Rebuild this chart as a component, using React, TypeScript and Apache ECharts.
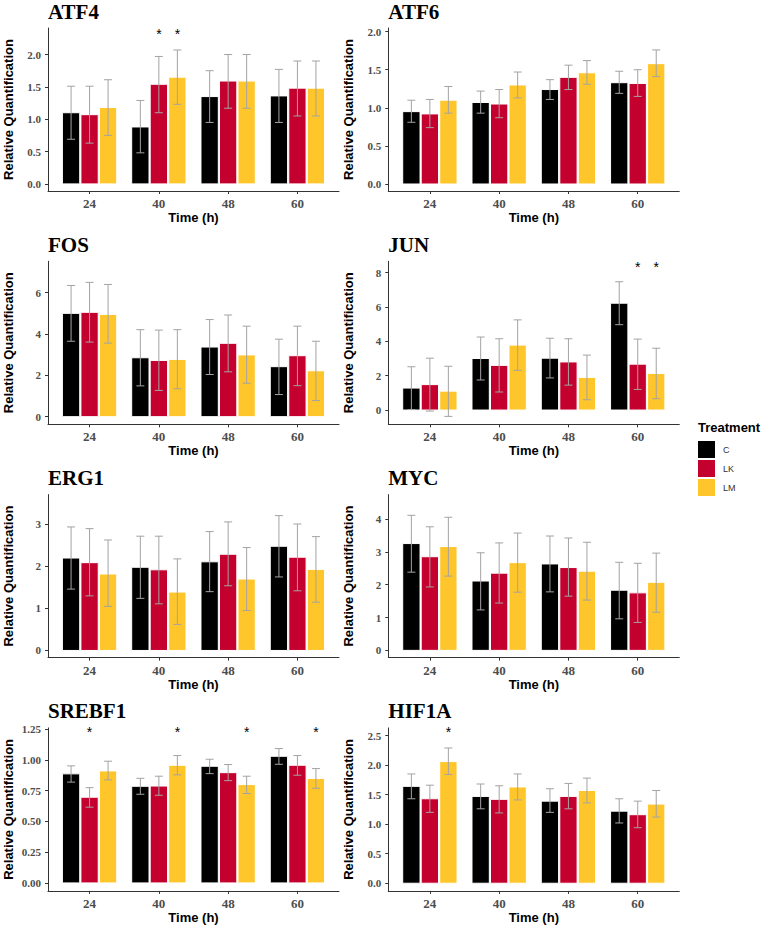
import React, { useEffect, useRef } from "react";
import * as echarts from "echarts";

const categories = ["24", "40", "48", "60"];
const treatments = ["C", "LK", "LM"];
const colors = ["#000000", "#C4002F", "#FFC62B"];

// rows: C, LK, LM ; columns: 24, 40, 48, 60
const atf4Mean = [[1.10, 0.88, 1.35, 1.36], [1.07, 1.54, 1.59, 1.48], [1.18, 1.65, 1.59, 1.48]];
const atf4Upper = [[1.51, 1.29, 1.75, 1.77], [1.51, 1.97, 2.00, 1.90], [1.61, 2.07, 2.00, 1.90]];
const atf4Lower = [[0.69, 0.48, 0.95, 0.95], [0.63, 1.10, 1.17, 1.05], [0.75, 1.23, 1.17, 1.05]];

const atf6Mean = [[0.95, 1.07, 1.24, 1.33], [0.92, 1.05, 1.40, 1.32], [1.10, 1.30, 1.46, 1.58]];
const atf6Upper = [[1.10, 1.22, 1.37, 1.48], [1.11, 1.24, 1.56, 1.50], [1.28, 1.47, 1.62, 1.76]];
const atf6Lower = [[0.81, 0.93, 1.11, 1.19], [0.74, 0.87, 1.24, 1.15], [0.93, 1.13, 1.31, 1.41]];

const fosMean = [[5.00, 2.85, 3.37, 2.42], [5.05, 2.72, 3.55, 2.95], [4.95, 2.77, 2.99, 2.22]];
const fosUpper = [[6.35, 4.21, 4.70, 3.75], [6.50, 4.19, 4.92, 4.38], [6.40, 4.21, 4.38, 3.65]];
const fosLower = [[3.65, 1.49, 2.04, 1.07], [3.61, 1.27, 2.17, 1.50], [3.56, 1.35, 1.62, 0.78]];

const junMean = [[1.28, 3.00, 3.02, 6.22], [1.48, 2.60, 2.80, 2.67], [1.10, 3.78, 1.90, 2.13]];
const junUpper = [[2.52, 4.25, 4.18, 7.47], [3.02, 4.15, 4.15, 4.13], [2.55, 5.25, 3.20, 3.60]];
const junLower = [[0.03, 1.75, 1.87, 4.97], [-0.06, 1.05, 1.45, 1.20], [-0.37, 2.31, 0.60, 0.66]];

const erg1Mean = [[2.20, 1.98, 2.11, 2.48], [2.09, 1.92, 2.29, 2.22], [1.82, 1.39, 1.70, 1.93]];
const erg1Upper = [[2.94, 2.72, 2.83, 3.21], [2.90, 2.72, 3.06, 3.01], [2.63, 2.18, 2.45, 2.71]];
const erg1Lower = [[1.46, 1.24, 1.40, 1.75], [1.30, 1.11, 1.54, 1.42], [1.05, 0.62, 0.95, 1.15]];

const mycMean = [[3.25, 2.11, 2.63, 1.83], [2.85, 2.35, 2.52, 1.75], [3.16, 2.67, 2.41, 2.07]];
const mycUpper = [[4.11, 2.97, 3.48, 2.68], [3.76, 3.27, 3.42, 2.65], [4.05, 3.57, 3.29, 2.96]];
const mycLower = [[2.38, 1.23, 1.78, 0.96], [1.93, 1.44, 1.65, 0.85], [2.26, 1.77, 1.53, 1.16]];

const srebf1Mean = [[0.887, 0.786, 0.949, 1.03], [0.697, 0.788, 0.897, 0.957], [0.911, 0.957, 0.80, 0.849]];
const srebf1Upper = [[0.952, 0.851, 1.006, 1.093], [0.775, 0.868, 0.963, 1.036], [0.99, 1.036, 0.868, 0.93]];
const srebf1Lower = [[0.82, 0.721, 0.889, 0.965], [0.616, 0.713, 0.832, 0.876], [0.838, 0.879, 0.727, 0.77]];

const hif1aMean = [[1.64, 1.47, 1.39, 1.22], [1.43, 1.42, 1.47, 1.16], [2.06, 1.63, 1.57, 1.34]];
const hif1aUpper = [[1.85, 1.68, 1.60, 1.43], [1.66, 1.65, 1.69, 1.39], [2.29, 1.85, 1.78, 1.57]];
const hif1aLower = [[1.43, 1.26, 1.20, 1.02], [1.20, 1.19, 1.26, 0.94], [1.84, 1.41, 1.36, 1.12]];

// tick labels
const atf4Ticks = [0, 0.5, 1, 1.5, 2];
const atf6Ticks = [0, 0.5, 1, 1.5, 2];
const fosTicks = [0, 2, 4, 6];
const junTicks = [0, 2, 4, 6, 8];
const erg1Ticks = [0, 1, 2, 3];
const mycTicks = [0, 1, 2, 3, 4];
const srebf1Ticks = [0, 0.25, 0.5, 0.75, 1, 1.25];
const hif1aTicks = [0, 0.5, 1, 1.5, 2, 2.5];

// significance marks: [category index, treatment index]
const atf4Stars = [[1, 1], [1, 2]];
const junStars = [[3, 1], [3, 2]];
const srebf1Stars = [[0, 1], [1, 2], [2, 2], [3, 2]];
const hif1aStars = [[0, 2]];

const genes = [
  { name: "ATF4", mean: atf4Mean, upper: atf4Upper, lower: atf4Lower, yMin: -0.11, yMax: 2.41, ticks: atf4Ticks, dec: 1, stars: atf4Stars, starY: 2.34 },
  { name: "ATF6", mean: atf6Mean, upper: atf6Upper, lower: atf6Lower, yMin: -0.092, yMax: 2.048, ticks: atf6Ticks, dec: 1, stars: [], starY: 0 },
  { name: "FOS", mean: fosMean, upper: fosUpper, lower: fosLower, yMin: -0.37, yMax: 7.52, ticks: fosTicks, dec: 0, stars: [], starY: 0 },
  { name: "JUN", mean: junMean, upper: junUpper, lower: junLower, yMin: -0.83, yMax: 8.66, ticks: junTicks, dec: 0, stars: junStars, starY: 8.39 },
  { name: "ERG1", mean: erg1Mean, upper: erg1Upper, lower: erg1Lower, yMin: -0.17, yMax: 3.71, ticks: erg1Ticks, dec: 0, stars: [], starY: 0 },
  { name: "MYC", mean: mycMean, upper: mycUpper, lower: mycLower, yMin: -0.22, yMax: 4.74, ticks: mycTicks, dec: 0, stars: [], starY: 0 },
  { name: "SREBF1", mean: srebf1Mean, upper: srebf1Upper, lower: srebf1Lower, yMin: -0.065, yMax: 1.261, ticks: srebf1Ticks, dec: 2, stars: srebf1Stars, starY: 1.237 },
  { name: "HIF1A", mean: hif1aMean, upper: hif1aUpper, lower: hif1aLower, yMin: -0.13, yMax: 2.63, ticks: hif1aTicks, dec: 1, stars: hif1aStars, starY: 2.58 },
];

const OFFSET = 0.267;
const BAR_W = 0.25;
const colLeft = [48, 388.3];
const rowTop = [28, 261.3, 494.6, 727.9];
const GRID_W = 291;
const GRID_H = 163;

function makeBarRender(t: number) {
  return (params: any, api: any) => {
    const c = api.value(0);
    const v = api.value(1);
    const lo = api.value(2);
    const hi = api.value(3);
    const xc = c + (t - 1) * OFFSET;
    const p0 = api.coord([xc, 0]);
    const p1 = api.coord([xc, v]);
    const pl = api.coord([xc, lo]);
    const ph = api.coord([xc, hi]);
    const w = api.size([BAR_W, 0])[0];
    const cap = 4;
    const eb = { stroke: "#A3A3A3", lineWidth: 1 };
    return {
      type: "group",
      children: [
        {
          type: "rect",
          shape: { x: p0[0] - w / 2, y: p1[1], width: w, height: p0[1] - p1[1] },
          style: { fill: colors[t], stroke: "#ffffff", lineWidth: 1 },
        },
        { type: "line", shape: { x1: pl[0], y1: pl[1], x2: ph[0], y2: ph[1] }, style: eb },
        { type: "line", shape: { x1: ph[0] - cap, y1: ph[1], x2: ph[0] + cap, y2: ph[1] }, style: eb },
        { type: "line", shape: { x1: pl[0] - cap, y1: pl[1], x2: pl[0] + cap, y2: pl[1] }, style: eb },
      ],
    };
  };
}

function starRender(params: any, api: any) {
  const p = api.coord([api.value(0), api.value(1)]);
  return {
    type: "text",
    x: p[0],
    y: p[1] + 1,
    style: {
      text: "*",
      fill: "#000",
      font: '14px "Liberation Sans"',
      align: "center",
      verticalAlign: "middle",
    },
  };
}

export default function App() {
  const ref = useRef<HTMLDivElement>(null);
  useEffect(() => {
    if (!ref.current) return;
    const chart = echarts.init(ref.current, null, { renderer: "svg" });
    const serif = "'Liberation Serif', 'Times New Roman', serif";
    const sans = "'Liberation Sans', Arial, sans-serif";
    const grids = genes.map((g, i) => ({
      left: colLeft[i % 2],
      top: rowTop[Math.floor(i / 2)],
      width: GRID_W,
      height: GRID_H,
    }));
    const titles = genes.map((g, i) => ({
      text: g.name,
      left: colLeft[i % 2],
      top: rowTop[Math.floor(i / 2)] - 27,
      padding: 0,
      textStyle: { fontFamily: serif, fontWeight: "bold", fontSize: 21, color: "#000" },
    }));
    const xAxes = genes.map((g, i) => ({
      gridIndex: i,
      type: "value",
      min: 0.4,
      max: 4.6,
      splitLine: { show: false },
      axisLine: { show: true, onZero: false, lineStyle: { color: "#333333", width: 1 } },
      axisTick: { show: true, customValues: [1, 2, 3, 4], length: 3, lineStyle: { color: "#333333" } },
      axisLabel: {
        customValues: [1, 2, 3, 4],
        formatter: (v: number) => categories[Math.round(v) - 1],
        margin: 6,
        fontFamily: serif,
        fontWeight: "bold",
        fontSize: 13,
        color: "#4D4D4D",
      },
      name: "Time (h)",
      nameLocation: "middle",
      nameGap: 19,
      nameTextStyle: { fontFamily: sans, fontWeight: "bold", fontSize: 13, color: "#000", verticalAlign: "top" },
    }));
    const yAxes = genes.map((g, i) => ({
      gridIndex: i,
      type: "value",
      min: g.yMin,
      max: g.yMax,
      splitLine: { show: false },
      axisLine: { show: true, onZero: false, lineStyle: { color: "#333333", width: 1 } },
      axisTick: { show: true, customValues: g.ticks, length: 3, lineStyle: { color: "#333333" } },
      axisLabel: {
        customValues: g.ticks,
        formatter: (v: number) => v.toFixed(g.dec),
        margin: 7,
        fontFamily: serif,
        fontWeight: "bold",
        fontSize: 11,
        color: "#4D4D4D",
      },
      name: "Relative Quantification",
      nameLocation: "middle",
      nameGap: 33,
      nameRotate: 90,
      nameTextStyle: { fontFamily: sans, fontWeight: "bold", fontSize: 13, color: "#000" },
    }));
    const series: any[] = [];
    genes.forEach((g, i) => {
      for (let t = 0; t < 3; t++) {
        series.push({
          type: "custom",
          name: treatments[t],
          xAxisIndex: i,
          yAxisIndex: i,
          itemStyle: { color: colors[t] },
          clip: false,
          silent: true,
          encode: { x: 0, y: 1 },
          data: categories.map((_, c) => [c + 1, g.mean[t][c], g.lower[t][c], g.upper[t][c]]),
          renderItem: makeBarRender(t),
        });
      }
      if (g.stars.length) {
        series.push({
          type: "custom",
          xAxisIndex: i,
          yAxisIndex: i,
          clip: false,
          silent: true,
          encode: { x: 0, y: 1 },
          data: g.stars.map(([c, t]) => [c + 1 + (t - 1) * OFFSET, g.starY]),
          renderItem: starRender,
        });
      }
    });
    chart.setOption({
      animation: false,
      backgroundColor: "#ffffff",
      title: titles,
      grid: grids,
      xAxis: xAxes,
      yAxis: yAxes,
      legend: {
        data: treatments,
        orient: "vertical",
        left: 698,
        top: 441,
        itemWidth: 17,
        itemHeight: 17,
        itemGap: 2,
        padding: 0,
        icon: "rect",
        selectedMode: false,
        textStyle: { fontFamily: sans, fontSize: 9, color: "#333", padding: [0, 0, 0, 3] },
      },
      graphic: [
        {
          type: "text",
          left: 698,
          top: 421,
          style: { text: "Treatment", font: "bold 13px 'Liberation Sans', Arial, sans-serif", fill: "#000" },
        },
      ],
      series,
    });
    return () => chart.dispose();
  }, []);
  return (
    <div
      ref={ref}
      style={{ position: "fixed", left: 0, top: 0, width: 763, height: 926, background: "#fff" }}
    />
  );
}
